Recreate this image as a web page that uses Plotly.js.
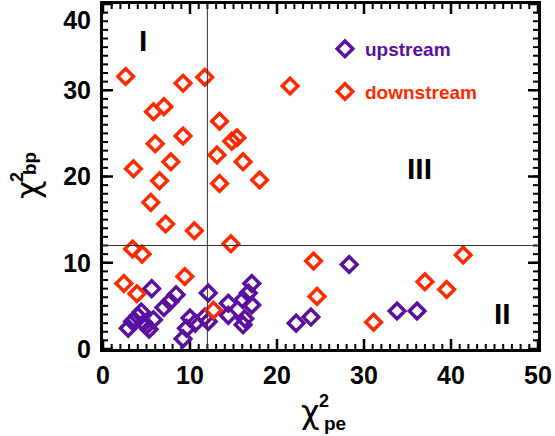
<!DOCTYPE html>
<html>
<head>
<meta charset="utf-8">
<script src="https://cdn.plot.ly/plotly-3.0.1.min.js"></script>
<style>html,body{margin:0;padding:0;background:#fff;}#chart{width:555px;height:436px;}</style>
</head>
<body>
<div id="chart"></div>
<script>
// ---- data ----
const upstreamX = [2.9, 3.4, 4.0, 4.4, 4.7, 5.3, 5.8, 5.0, 5.6, 7.0, 7.7, 8.4, 9.2, 9.6, 10.0, 10.6,
  11.7, 12.1, 12.1, 14.4, 14.4, 17.1, 16.7, 16.1, 17.1, 16.3, 16.1, 22.2, 23.9, 28.3, 33.8, 36.1];
const upstreamY = [2.4, 3.2, 3.8, 4.3, 3.0, 2.3, 3.4, 2.7, 7.0, 4.8, 5.5, 6.3, 1.2, 2.4, 3.6, 3.0,
  3.7, 3.2, 6.5, 5.3, 3.9, 7.6, 6.5, 5.7, 5.1, 3.5, 2.8, 3.0, 3.7, 9.8, 4.4, 4.4];
const downstreamX = [2.6, 9.2, 11.7, 21.5, 5.8, 7.0, 13.4, 6.0, 9.2, 14.8, 15.4, 13.1, 16.1, 7.8, 3.5,
  6.5, 13.4, 18.0, 5.5, 7.2, 10.5, 14.7, 3.4, 4.5, 9.4, 2.4, 3.9, 12.7, 24.2, 24.6, 31.1, 37.0, 39.5, 41.4];
const downstreamY = [31.6, 30.8, 31.5, 30.5, 27.5, 28.1, 26.4, 23.8, 24.7, 24.1, 24.5, 22.5, 21.7, 21.7, 20.9,
  19.5, 19.2, 19.6, 17.0, 14.5, 13.7, 12.2, 11.6, 11.0, 8.4, 7.6, 6.4, 4.5, 10.2, 6.1, 3.1, 7.8, 6.9, 10.9];
const seriesNames = ['upstream', 'downstream'];
const thresholdX = 12;
const thresholdY = 12;
const xRange = [0, 50];
const yRange = [0, 40];
const xTicks = [0, 10, 20, 30, 40, 50];
const yTicks = [0, 10, 20, 30, 40];
const xMinor = Array.from({length: 51}, (_, i) => i);   // minor tick every unit
const yMinor = Array.from({length: 41}, (_, i) => i);
const regionLabels = ['I', 'II', 'III'];

const purple = '#5b0fa0';
const red = '#ff2a00';
const fontFam = 'Liberation Sans';

// plot area in pixels (for placing the composite axis titles)
const L = 103, R = 538, T = 4, B = 349;
const px = x => (x - L) / (R - L);
const py = y => (B - y) / (B - T);
// pixel lengths expressed in axis units (for the inward ticks)
const xPerPx = (xRange[1] - xRange[0]) / (R - L);
const yPerPx = (yRange[1] - yRange[0]) / (B - T);

// inward tick marks on all four sides, built from the tick arrays
function tickTrace(xVals, yVals, lenPx, width) {
  const xs = [], ys = [];
  const lx = lenPx * xPerPx, ly = lenPx * yPerPx;
  xVals.forEach(v => {
    xs.push(v, v, null, v, v, null);
    ys.push(yRange[0], yRange[0] + ly, null, yRange[1], yRange[1] - ly, null);
  });
  yVals.forEach(v => {
    xs.push(xRange[0], xRange[0] + lx, null, xRange[1], xRange[1] - lx, null);
    ys.push(v, v, null, v, v, null);
  });
  return {x: xs, y: ys, type: 'scatter', mode: 'lines', showlegend: false, hoverinfo: 'skip',
          connectgaps: false, line: {color: 'black', width: width}};
}

const traces = [
  tickTrace(xMinor, yMinor, 5, 2),
  tickTrace(xTicks, yTicks, 10, 2.5),
  {x: upstreamX, y: upstreamY, type: 'scatter', mode: 'markers',
   name: '<span style="color:' + purple + '">' + seriesNames[0] + '</span>',
   legendgroup: 'a',
   marker: {symbol: 'diamond-open', size: 12, color: purple, line: {width: 3.5, color: purple}}},
  {x: downstreamX, y: downstreamY, type: 'scatter', mode: 'markers',
   name: '<span style="color:' + red + '">' + seriesNames[1] + '</span>',
   legendgroup: 'b',
   marker: {symbol: 'diamond-open', size: 12, color: red, line: {width: 3.5, color: red}}}
];

const bold = v => '<b>' + v + '</b>';
const tickFont = {family: fontFam, size: 25, color: 'black'};
const centered = {xanchor: 'center', yanchor: 'middle', showarrow: false};

const layout = {
  width: 555, height: 436,
  margin: {l: L, r: 555 - R, t: T, b: 436 - B},
  paper_bgcolor: 'white', plot_bgcolor: 'white',
  showlegend: true,
  legend: {x: px(325), y: py(30), xanchor: 'left', yanchor: 'top',
           bgcolor: 'rgba(0,0,0,0)', traceorder: 'grouped', tracegroupgap: 15,
           font: {family: fontFam, size: 19, weight: 'bold'}},
  xaxis: {range: xRange, showgrid: false, zeroline: false, showline: true, linecolor: 'black', linewidth: 3,
          mirror: true, ticks: '', tickmode: 'array', tickvals: xTicks, ticktext: xTicks.map(bold),
          tickfont: tickFont, ticklabelstandoff: 2},
  yaxis: {range: yRange, showgrid: false, zeroline: false, showline: true, linecolor: 'black', linewidth: 3,
          mirror: true, ticks: '', tickmode: 'array', tickvals: yTicks,
          // the top label sits lower than its tick in the reference
          ticktext: yTicks.map((v, i) => i === yTicks.length - 1 ? '<br>' + bold(v) : bold(v)),
          ticklabeloverflow: 'allow', tickfont: tickFont, ticklabelstandoff: 4},
  shapes: [
    {type: 'line', xref: 'x', yref: 'paper', x0: thresholdX, x1: thresholdX, y0: 0, y1: 1,
     line: {color: '#333', width: 1}},
    {type: 'line', xref: 'paper', yref: 'y', x0: 0, x1: 1, y0: thresholdY, y1: thresholdY,
     line: {color: '#333', width: 1}}
  ],
  annotations: [
    Object.assign({text: bold(regionLabels[0]), x: 4.6, y: 35.8, xref: 'x', yref: 'y',
     font: {family: fontFam, size: 30, color: 'black'}}, centered),
    Object.assign({text: bold(regionLabels[1]), x: 45.9, y: 4.1, xref: 'x', yref: 'y',
     font: {family: fontFam, size: 30, color: 'black'}}, centered),
    Object.assign({text: bold(regionLabels[2]), x: 36.4, y: 20.9, xref: 'x', yref: 'y',
     font: {family: fontFam, size: 30, color: 'black'}}, centered),
    // x title: χ²_pe
    Object.assign({text: 'χ', x: px(310), y: py(412), xref: 'paper', yref: 'paper',
     font: {family: 'DejaVu Sans', size: 32, color: 'black'}}, centered),
    Object.assign({text: bold('2'), x: px(324), y: py(401), xref: 'paper', yref: 'paper',
     font: {family: fontFam, size: 18, color: 'black'}}, centered),
    Object.assign({text: bold('pe'), x: px(335), y: py(423), xref: 'paper', yref: 'paper',
     font: {family: fontFam, size: 19, color: 'black'}}, centered),
    // y title: χ²_bp (rotated)
    Object.assign({text: 'χ', x: px(28), y: py(190), xref: 'paper', yref: 'paper', textangle: -90,
     font: {family: 'DejaVu Sans', size: 32, color: 'black'}}, centered),
    Object.assign({text: bold('2'), x: px(17), y: py(177), xref: 'paper', yref: 'paper', textangle: -90,
     font: {family: fontFam, size: 18, color: 'black'}}, centered),
    Object.assign({text: bold('bp'), x: px(30), y: py(164), xref: 'paper', yref: 'paper', textangle: -90,
     font: {family: fontFam, size: 19, color: 'black'}}, centered)
  ]
};

Plotly.newPlot('chart', traces, layout, {staticPlot: true, displayModeBar: false});
</script>
</body>
</html>
